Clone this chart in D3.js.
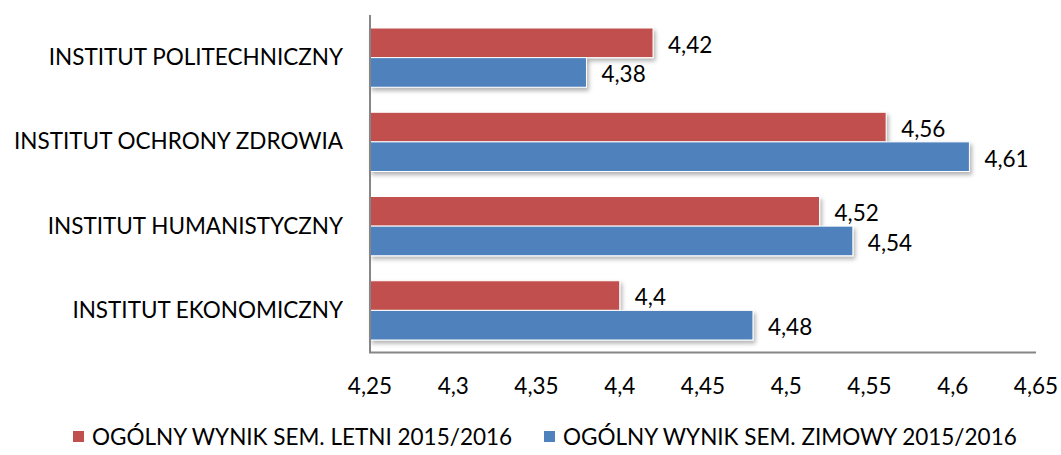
<!DOCTYPE html>
<html>
<head>
<meta charset="utf-8">
<script src="https://cdn.jsdelivr.net/npm/d3@7"></script>
<style>
  body { margin: 0; background: #fff; }
  text { font-family: Lato, "Open Sans", sans-serif; fill: #000; }
</style>
</head>
<body>
<div id="chart-area"></div>
<script>
let width = 1061,
    height = 455;

// data
let categories = ["INSTITUT POLITECHNICZNY", "INSTITUT OCHRONY ZDROWIA", "INSTITUT HUMANISTYCZNY", "INSTITUT EKONOMICZNY"];
let seriesNames = ["OGÓLNY WYNIK SEM. LETNI 2015/2016", "OGÓLNY WYNIK SEM. ZIMOWY 2015/2016"];
let letni = [4.42, 4.56, 4.52, 4.4];
let zimowy = [4.38, 4.61, 4.54, 4.48];
let ticks = [4.25, 4.3, 4.35, 4.4, 4.45, 4.5, 4.55, 4.6, 4.65];
let colors = ["#c0504d", "#4f81bd"];

let fmt = v => String(v).replace(".", ",");

let svg = d3.select("#chart-area")
    .append("svg")
    .attr("width", width)
    .attr("height", height);

// shadow for bars
let defs = svg.append("defs");
let f = defs.append("filter").attr("id", "shadow")
    .attr("x", "-5%").attr("y", "-20%").attr("width", "110%").attr("height", "160%");
f.append("feDropShadow")
    .attr("dx", 2).attr("dy", 3).attr("stdDeviation", 2)
    .attr("flood-color", "#000").attr("flood-opacity", 0.3);

let x = d3.scaleLinear().domain([4.25, 4.65]).range([370, 1036]);
let y = d3.scaleBand().domain(categories).range([15, 352]);
let inner = d3.scaleBand().domain([0, 1]).range([13, y.bandwidth() - 12]);

let rows = categories.map((c, i) => ({cat: c, vals: [letni[i], zimowy[i]]}));

let groups = svg.selectAll("g.grp")
    .data(rows)
    .enter()
    .append("g")
    .attr("class", "grp")
    .attr("transform", d => "translate(0," + y(d.cat) + ")");

let bars = groups.selectAll("g.bar")
    .data(d => d.vals.map((v, s) => ({v: v, s: s})))
    .enter()
    .append("g");

bars.append("rect")
    .attr("x", x(4.25))
    .attr("y", d => inner(d.s))
    .attr("width", d => x(d.v) - x(4.25))
    .attr("height", inner.bandwidth())
    .style("fill", d => colors[d.s])
    .style("stroke", "#fff")
    .style("stroke-width", 1)
    .attr("filter", "url(#shadow)");

bars.append("text")
    .attr("x", d => x(d.v) + 15)
    .attr("y", d => inner(d.s) + inner.bandwidth() / 2 + 2)
    .attr("dy", "0.35em")
    .style("font-size", "22.5px")
    .text(d => fmt(d.v));

// category labels
svg.selectAll("text.cat")
    .data(categories)
    .enter()
    .append("text")
    .attr("class", "cat")
    .attr("x", 343)
    .attr("y", d => y(d) + y.bandwidth() / 2)
    .attr("dy", "0.35em")
    .attr("text-anchor", "end")
    .style("font-size", "22.5px")
    .text(d => d);

// axis lines
svg.append("line")
    .attr("x1", 370).attr("x2", 370)
    .attr("y1", 15).attr("y2", 353)
    .style("stroke", "#868686").style("stroke-width", 2);
svg.append("line")
    .attr("x1", 369).attr("x2", x(4.65))
    .attr("y1", 352.5).attr("y2", 352.5)
    .style("stroke", "#868686").style("stroke-width", 2);

// tick labels
svg.selectAll("text.tick")
    .data(ticks)
    .enter()
    .append("text")
    .attr("class", "tick")
    .attr("x", d => x(d))
    .attr("y", 386)
    .attr("dy", "0.35em")
    .attr("text-anchor", "middle")
    .style("font-size", "22.5px")
    .text(d => fmt(d));

// legend
let legX = [73, 544];
let leg = svg.selectAll("g.leg")
    .data(seriesNames)
    .enter()
    .append("g")
    .attr("transform", (d, i) => "translate(" + legX[i] + ",431)");
leg.append("rect")
    .attr("width", 11).attr("height", 11)
    .style("fill", (d, i) => colors[i]);
leg.append("text")
    .attr("x", 19)
    .attr("y", 6)
    .attr("dy", "0.35em")
    .style("font-size", "22.5px")
    .text(d => d);
</script>
</body>
</html>
